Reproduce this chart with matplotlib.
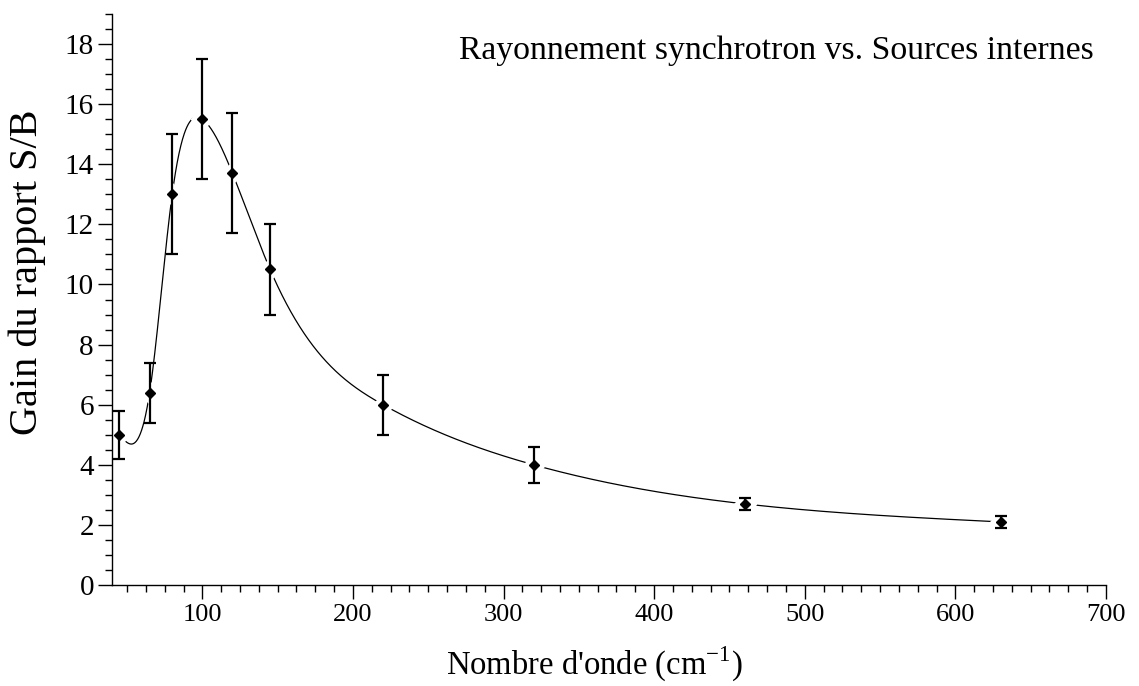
import numpy as np
import matplotlib
matplotlib.use("Agg")
import matplotlib.pyplot as plt
from matplotlib.ticker import MultipleLocator

plt.rcParams['font.family'] = ['Liberation Serif', 'DejaVu Serif']
plt.rcParams['mathtext.fontset'] = 'custom'
plt.rcParams['mathtext.rm'] = 'Liberation Serif'

# Data
wavenumber = [45, 65, 80, 100, 120, 145, 220, 320, 460, 630]
gain = [5.0, 6.4, 13.0, 15.5, 13.7, 10.5, 6.0, 4.0, 2.7, 2.1]
gain_err = [0.8, 1.0, 2.0, 2.0, 2.0, 1.5, 1.0, 0.6, 0.2, 0.2]

title_text = "Rayonnement synchrotron vs. Sources internes"
xlabel_text = r"Nombre d'onde (cm$^{\mathrm{-1}}$)"
ylabel_text = "Gain du rapport S/B"


def natural_cubic_spline(x, y, xs):
    x = np.asarray(x, float)
    y = np.asarray(y, float)
    n = len(x)
    h = np.diff(x)
    A = np.zeros((n, n))
    b = np.zeros(n)
    A[0, 0] = 1.0
    A[-1, -1] = 1.0
    for i in range(1, n - 1):
        A[i, i - 1] = h[i - 1]
        A[i, i] = 2 * (h[i - 1] + h[i])
        A[i, i + 1] = h[i]
        b[i] = 3 * ((y[i + 1] - y[i]) / h[i] - (y[i] - y[i - 1]) / h[i - 1])
    c = np.linalg.solve(A, b)
    bb = (y[1:] - y[:-1]) / h - h * (2 * c[:-1] + c[1:]) / 3
    d = (c[1:] - c[:-1]) / (3 * h)
    idx = np.clip(np.searchsorted(x, xs) - 1, 0, n - 2)
    dx = xs - x[idx]
    return y[idx] + bb[idx] * dx + c[idx] * dx ** 2 + d[idx] * dx ** 3


fig = plt.figure(figsize=(11.39, 6.86), dpi=100)
ax = fig.add_axes([0.0983, 0.1472, 0.8727, 0.8324])

xs = np.linspace(wavenumber[0], wavenumber[-1], 2000)
ys = natural_cubic_spline(wavenumber, gain, xs)
ax.plot(xs, ys, color='black', lw=0.9, zorder=1)

# white halo to break the curve around the symbols
ax.plot(wavenumber, gain, ls='none', marker='D', ms=11, mfc='white', mec='white', zorder=2)
ax.errorbar(wavenumber, gain, yerr=gain_err, fmt='none', ecolor='black',
            elinewidth=1.6, capsize=4.5, capthick=1.6, zorder=3)
ax.plot(wavenumber, gain, ls='none', marker='D', ms=5.5, mfc='black', mec='black', zorder=4)

ax.set_xlim(40, 700)
ax.set_ylim(0, 19)
ax.xaxis.set_major_locator(MultipleLocator(100))
ax.xaxis.set_minor_locator(MultipleLocator(12.5))
ax.yaxis.set_major_locator(MultipleLocator(2))
ax.yaxis.set_minor_locator(MultipleLocator(0.5))

for s in ('top', 'right'):
    ax.spines[s].set_visible(False)
for s in ('left', 'bottom'):
    ax.spines[s].set_linewidth(1.0)

ax.tick_params(axis='both', which='major', direction='out', length=10, width=1.0)
ax.tick_params(axis='both', which='minor', direction='out', length=5, width=1.0)
ax.tick_params(axis='y', which='major', labelsize=21, pad=3)
ax.tick_params(axis='x', which='major', labelsize=19, pad=4)

ax.set_xlabel(xlabel_text, fontsize=23.5)
ax.xaxis.set_label_coords(0.485, -0.104)
ax.set_ylabel(ylabel_text, fontsize=29)
ax.yaxis.set_label_coords(-0.066, 0.548)
ax.text(0.988, 0.962, title_text, transform=ax.transAxes, ha='right', va='top', fontsize=24.3)

fig.savefig('out.png', dpi=100)
